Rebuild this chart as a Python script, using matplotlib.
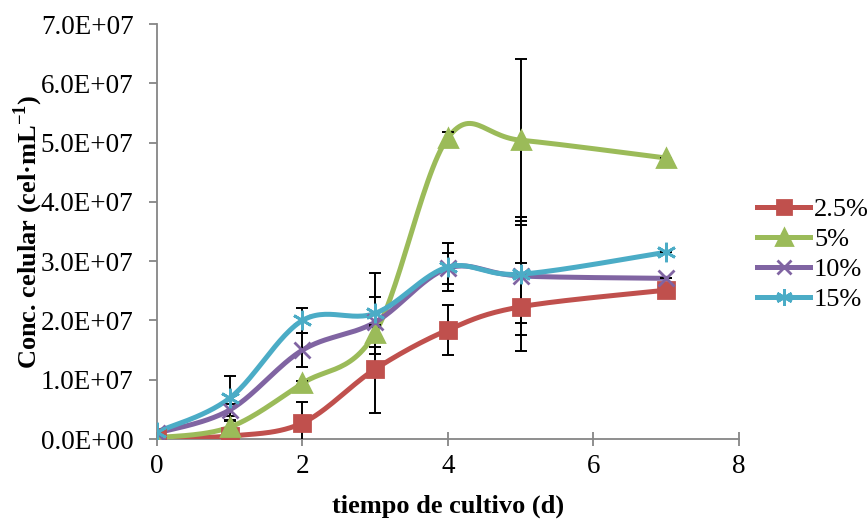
import numpy as np
import matplotlib
matplotlib.use('Agg')
import matplotlib.pyplot as plt
from matplotlib.ticker import FuncFormatter, MultipleLocator

plt.rcParams['font.family'] = ['Liberation Serif', 'DejaVu Serif']
plt.rcParams['mathtext.fontset'] = 'custom'
plt.rcParams['mathtext.rm'] = 'Liberation Serif'
plt.rcParams['mathtext.bf'] = 'Liberation Serif:bold'

# culture time (days)
dias = [0, 1, 2, 3, 4, 5, 7]
labels = ['2.5%', '5%', '10%', '15%']

# cell concentration (cel/mL) per treatment
conc_25 = [0.03e7, 0.05e7, 0.27e7, 1.18e7, 1.84e7, 2.23e7, 2.51e7]
conc_5 = [0.02e7, 0.20e7, 0.94e7, 1.79e7, 5.08e7, 5.04e7, 4.74e7]
conc_10 = [0.10e7, 0.49e7, 1.50e7, 1.97e7, 2.88e7, 2.75e7, 2.71e7]
conc_15 = [0.12e7, 0.69e7, 2.00e7, 2.12e7, 2.90e7, 2.78e7, 3.15e7]

# standard deviations
sd_25 = [0.0, 0.03e7, 0.36e7, 0.74e7, 0.42e7, 0.74e7, 0.0]
sd_5 = [0.0, 0.10e7, 0.03e7, 0.10e7, 0.10e7, 1.37e7, 0.0]
sd_10 = [0.0, 0.10e7, 0.29e7, 0.42e7, 0.26e7, 0.99e7, 0.0]
sd_15 = [0.0, 0.37e7, 0.21e7, 0.68e7, 0.40e7, 0.83e7, 0.0]


def smooth(x, y, n=30):
    # Catmull-Rom style smoothing through the points (like spreadsheet smoothed lines)
    p = np.column_stack([x, y]).astype(float)
    pts = np.vstack([p[0], p, p[-1]])
    out = []
    for i in range(1, len(pts) - 2):
        p0, p1, p2, p3 = pts[i - 1], pts[i], pts[i + 1], pts[i + 2]
        c1 = p1 + (p2 - p0) / 6.0
        c2 = p2 - (p3 - p1) / 6.0
        t = np.linspace(0, 1, n)[:, None]
        seg = ((1 - t) ** 3) * p1 + 3 * ((1 - t) ** 2) * t * c1 + 3 * (1 - t) * t ** 2 * c2 + t ** 3 * p2
        out.append(seg if i == 1 else seg[1:])
    s = np.vstack(out)
    return s[:, 0], s[:, 1]


fig = plt.figure(figsize=(8.68, 5.22), dpi=100)
ax = fig.add_axes([0.181, 0.159, 0.670, 0.795])

series = [
    (conc_25, sd_25, '#C0504D', 's', 12),
    (conc_5, sd_5, '#9BBB59', '^', 13),
    (conc_10, sd_10, '#8064A2', 'x', 12),
    (conc_15, sd_15, '#4BACC6', (6, 2, 0), 14),
]

for (vals, sd, col, mk, ms), lab in zip(series, labels):
    xs, ys = smooth(dias, vals)
    ax.plot(xs, ys, color=col, linewidth=3.6, zorder=3)
    ax.errorbar(dias, vals, yerr=sd, fmt='none', ecolor='black', elinewidth=1.4,
                capsize=4, capthick=1.4, zorder=3.5)
    ax.plot(dias, vals, linestyle='none', marker=mk, markersize=ms, color=col,
            markeredgecolor=col, markeredgewidth=2, zorder=4)
    # legend handle
    ax.plot([], [], color=col, linewidth=3.6, marker=mk, markersize=ms * 0.85,
            markeredgewidth=2, label=lab)

ax.set_xlim(0, 8)
ax.set_ylim(0, 7e7)
ax.xaxis.set_major_locator(MultipleLocator(2))
ax.yaxis.set_major_locator(MultipleLocator(1e7))
ax.yaxis.set_major_formatter(FuncFormatter(lambda v, pos: f'{v:.1E}'))

for side in ['top', 'right']:
    ax.spines[side].set_visible(False)
for side in ['left', 'bottom']:
    ax.spines[side].set_color('#868686')
    ax.spines[side].set_linewidth(1.3)
ax.tick_params(axis='both', colors='#868686', labelcolor='black', labelsize=19.5,
               length=6, width=1.3)
ax.tick_params(axis='y', pad=11)
ax.tick_params(axis='x', direction='inout', length=10, pad=6)

ax.set_xlabel('tiempo de cultivo (d)', fontsize=19, fontweight='bold', labelpad=11)
ax.set_ylabel(r'Conc. celular (cel·mL$^{\mathbf{-1}}$)', fontsize=19,
              fontweight='bold', labelpad=-3)

leg = ax.legend(loc='center left', bbox_to_anchor=(1.0, 0.445), frameon=False,
                fontsize=19, handlelength=2.0, handletextpad=0.15,
                labelspacing=0.25, borderaxespad=0.3)

fig.savefig('out.png', dpi=100)
